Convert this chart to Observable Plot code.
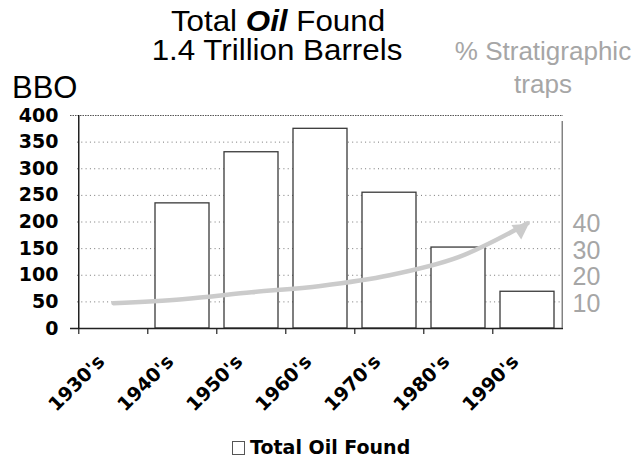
<!DOCTYPE html>
<html><head><meta charset="utf-8">
<script src="https://cdn.jsdelivr.net/npm/d3@7"></script>
<script src="https://cdn.jsdelivr.net/npm/@observablehq/plot@0.6"></script>
<style>
body{margin:0;background:#fff;}
#wrap{position:relative;width:637px;height:459px;overflow:hidden;font-family:"Liberation Sans",Arial,sans-serif;color:#000;}
.t{position:absolute;white-space:nowrap;line-height:1;}
.c{transform:translateX(-50%);}
.cs{transform:translateX(-50%) scaleX(1.08);}
#chart{position:absolute;left:0;top:100px;}
#leg{position:absolute;left:250px;top:438px;font-family:"DejaVu Sans",Verdana,sans-serif;font-weight:bold;font-size:19px;}
#sw{position:absolute;left:232px;top:441px;width:11px;height:12px;border:1px solid #555;background:#fff;}
</style></head><body><div id="wrap">
<div class="t cs" style="left:278px;top:7px;font-size:29px;">Total <b><i>Oil</i></b> Found</div>
<div class="t cs" style="left:277px;top:36px;font-size:29px;">1.4 Trillion Barrels</div>
<div class="t" style="left:12px;top:72px;font-size:31px;">BBO</div>
<div class="t c" style="left:543px;top:38px;font-size:26px;color:#a6a6a6;">% Stratigraphic</div>
<div class="t c" style="left:543px;top:71px;font-size:26px;color:#a6a6a6;">traps</div>
<div id="chart"></div>
<div id="sw"></div>
<div class="t" id="leg">Total Oil Found</div>
</div>
<script>
// ---- data ----
const decades = ["1930's", "1940's", "1950's", "1960's", "1970's", "1980's", "1990's"];
const oilFound = [0, 235, 331, 375, 255, 152, 69];          // BBO
const stratPct = [9.5, 11, 13.6, 16, 20, 26.8, 39.5];       // % stratigraphic traps (trend arrow)
const bboTicks = [0, 50, 100, 150, 200, 250, 300, 350, 400];
const pctTicks = [10, 20, 30, 40];
const bboMax = 400, pctMax = 80;

const W = 637, H = 330, ML = 77, MR = 74, MT = 15, MB = 102;
const step = (W - ML - MR) / decades.length;
const ratio = bboMax / pctMax;

const bars = decades.map((d, i) => ({decade: d, value: oilFound[i]}));
const trend = decades.map((d, i) => ({decade: d, pct: stratPct[i]}));
const grey = "#cbcbcb";
const bold = {fontFamily: "DejaVu Sans, Verdana, sans-serif", fontWeight: "bold", fontSize: 19};

const chart = Plot.plot({
  width: W, height: H,
  marginLeft: ML, marginRight: MR, marginTop: MT, marginBottom: MB,
  style: {background: "white", color: "#000", overflow: "visible"},
  x: {type: "band", domain: decades, paddingInner: 0.22, paddingOuter: 0.11},
  y: {domain: [0, bboMax]},
  marks: [
    Plot.ruleY(bboTicks.filter(v => v > 0 && v < bboMax), {stroke: "#777", strokeDasharray: "1,3.3"}),
    Plot.ruleY([bboMax], {stroke: "#555", strokeDasharray: "1.5,1", insetLeft: -7}),
    Plot.barY(bars, {x: "decade", y: "value", fill: "white", stroke: "#3a3a3a", strokeWidth: 1.3}),
    Plot.line(trend, {x: "decade", y: d => d.pct * ratio, curve: "catmull-rom", stroke: grey, strokeWidth: 4.5}),
    Plot.dot(trend.slice(-1), {x: "decade", y: d => d.pct * ratio, symbol: "triangle", r: 6.5, fill: grey, stroke: null, rotate: 56, dx: -7, dy: 6}),
    Plot.ruleY([0], {stroke: "#222", strokeWidth: 1.5, insetLeft: -7}),
    Plot.ruleX(decades, {x: d => d, y1: 0, y2: 0, insetBottom: -6, dx: -step / 2, stroke: "#222", strokeWidth: 1.2}),
    Plot.ruleX(decades.slice(0, 1), {x: d => d, y1: 0, y2: bboMax, dx: -step / 2, stroke: "#000", strokeWidth: 1.3}),
    Plot.ruleX(decades.slice(-1), {x: d => d, y1: 0, y2: bboMax, insetBottom: -6, dx: step / 2, stroke: "#666", strokeWidth: 1.2}),
    Plot.axisY(bboTicks, {anchor: "left", tickSize: 0, tickPadding: 19, label: null, ...bold}),
    Plot.axisY(pctTicks.map(p => p * ratio), {anchor: "right", tickSize: 0, tickPadding: 9, label: null, dy: 2,
      tickFormat: d => d / ratio, color: "#a6a6a6", fill: "#a6a6a6", fontSize: 25, fontFamily: "Liberation Sans, Arial, sans-serif"}),
    Plot.axisX({tickSize: 0, tickRotate: -45, tickPadding: 30, dx: -12, label: null, ...bold})
  ]
});
document.getElementById("chart").appendChild(chart);
</script>
</body></html>
